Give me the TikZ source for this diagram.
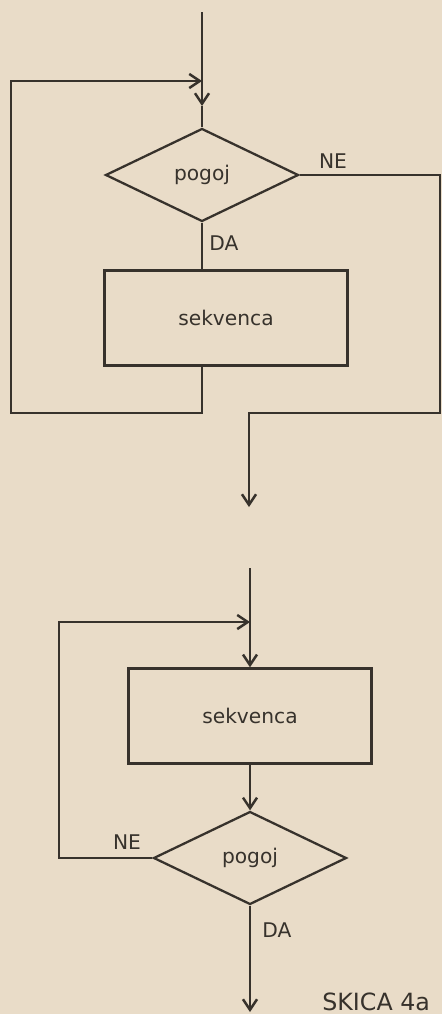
\documentclass[tikz,border=0pt]{standalone}
\usepackage{fontspec}
\setmainfont{DejaVu Sans}
\usetikzlibrary{arrows.meta,positioning,shapes.geometric}
\definecolor{paper}{RGB}{233,220,200}
\definecolor{ink}{RGB}{55,50,44}

\begin{document}
\begin{tikzpicture}[x=0.02cm,y=-0.02cm,
    flow/.style={draw=ink, line width=1.4pt},
    arr/.style={flow, -{Straight Barb[length=6pt,width=8pt]}},
    cond/.style={diamond, draw=ink, line width=1.3pt, inner sep=0pt,
      minimum width=3.86cm, minimum height=1.86cm, text=ink,
      font=\fontsize{11.5}{13}\selectfont},
    block/.style={rectangle, draw=ink, line width=1.4pt, inner sep=0pt,
      minimum width=4.86cm, minimum height=1.9cm, text=ink,
      font=\fontsize{11.5}{13}\selectfont},
    lbl/.style={text=ink, inner sep=0pt, font=\fontsize{11.5}{13}\selectfont}]
  \fill[paper] (0,0) rectangle (442,1014);
  \useasboundingbox (0,0) rectangle (442,1014);

  % zanka s pogojem na zacetku
  \coordinate (in1) at (202,12);
  \coordinate (join1) at (202,81);
  \coordinate (tip1) at (202,106);
  \node[cond] (if1) at (202,175) {pogoj};
  \node[block] (seq1) at (226,318) {sekvenca};
  \coordinate (back1) at (202,413);
  \coordinate (left1) at (11,413);
  \coordinate (top1) at (11,81);
  \coordinate (ne1) at (440,175);
  \coordinate (ne2) at (440,413);
  \coordinate (ne3) at (249,413);
  \coordinate (out1) at (249,507);
  \draw[flow] (in1) -- (join1);
  \draw[arr] (join1) -- (tip1);
  \draw[flow] (tip1) -- (if1.north);
  \draw[flow] (if1.south) -- (if1.south |- seq1.north);
  \draw[arr] (seq1.south -| back1) -- (back1) -- (left1) -- (top1) -- (join1);
  \draw[arr] (if1.east) -- (ne1) -- (ne2) -- (ne3) -- (out1);
  \node[lbl] (ne) at (333,161) {NE};
  \node[lbl] (da) at (224,243) {DA};

  % zanka s pogojem na koncu
  \coordinate (in2) at (250,568);
  \coordinate (join2) at (250,622);
  \node[block] (seq2) at (250,716) {sekvenca};
  \node[cond] (if2) at (250,858) {pogoj};
  \coordinate (left2) at (59,858);
  \coordinate (top2) at (59,622);
  \coordinate (out2) at (250,1012);
  \draw[flow] (in2) -- (join2);
  \draw[arr] (join2) -- (seq2.north);
  \draw[arr] (seq2.south) -- (if2.north);
  \draw[arr] (if2.west) -- (left2) -- (top2) -- (join2);
  \draw[arr] (if2.south) -- (out2);
  \node[lbl] (ne2l) at (127,842) {NE};
  \node[lbl] (da2l) at (277,930) {DA};
  \node[lbl, anchor=west, font=\fontsize{13.5}{15}\selectfont] (skica) at (322,1002) {SKICA 4a};
\end{tikzpicture}
\end{document}
